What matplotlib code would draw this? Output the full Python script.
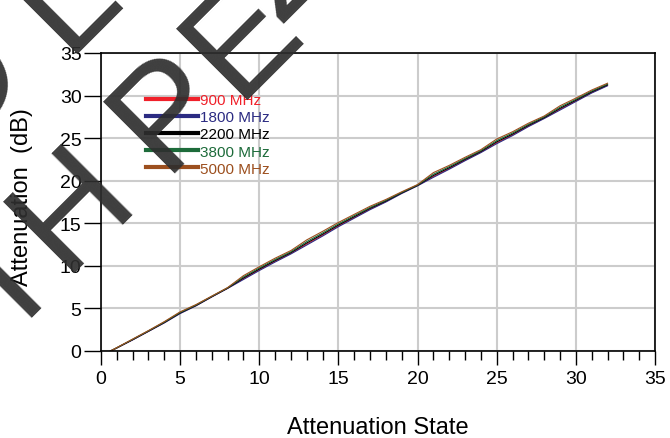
import numpy as np
import matplotlib
matplotlib.use("Agg")
import matplotlib.pyplot as plt
from matplotlib.lines import Line2D

states = [0.6, 1, 2, 3, 4, 5, 6, 7, 8, 9, 10, 11, 12, 13, 14, 15, 16,
          17, 18, 19, 20, 21, 22, 23, 24, 25, 26, 27, 28, 29, 30, 31, 32]

att_900 = [0, 0.36, 1.32, 2.32, 3.33, 4.44, 5.33, 6.37, 7.37, 8.5, 9.55,
           10.55, 11.49, 12.57, 13.61, 14.7, 15.69, 16.68, 17.56, 18.54,
           19.43, 20.51, 21.44, 22.43, 23.37, 24.46, 25.39, 26.43, 27.36,
           28.4, 29.38, 30.37, 31.21]
att_1800 = [0, 0.35, 1.3, 2.3, 3.3, 4.4, 5.3, 6.35, 7.35, 8.4, 9.45,
            10.45, 11.4, 12.45, 13.5, 14.6, 15.6, 16.6, 17.5, 18.5,
            19.4, 20.4, 21.35, 22.35, 23.3, 24.35, 25.3, 26.35, 27.3,
            28.3, 29.3, 30.3, 31.15]
att_2200 = [0, 0.37, 1.34, 2.34, 3.36, 4.48, 5.36, 6.39, 7.39, 8.58, 9.63,
            10.63, 11.56, 12.69, 13.72, 14.8, 15.78, 16.76, 17.62, 18.58,
            19.46, 20.62, 21.53, 22.51, 23.44, 24.57, 25.48, 26.51, 27.42,
            28.5, 29.46, 30.44, 31.27]
att_3800 = [0, 0.38, 1.37, 2.37, 3.4, 4.53, 5.4, 6.42, 7.42, 8.7, 9.75,
            10.75, 11.66, 12.85, 13.86, 14.93, 15.9, 16.86, 17.7, 18.63,
            19.5, 20.76, 21.65, 22.61, 23.53, 24.71, 25.6, 26.61, 27.5,
            28.63, 29.56, 30.53, 31.35]
att_5000 = [0, 0.4, 1.4, 2.4, 3.45, 4.6, 5.45, 6.45, 7.45, 8.85, 9.9,
            10.9, 11.8, 13.05, 14.05, 15.1, 16.05, 17.0, 17.8, 18.7,
            19.55, 20.95, 21.8, 22.75, 23.65, 24.9, 25.75, 26.75, 27.6,
            28.8, 29.7, 30.65, 31.45]

labels = ["900 MHz", "1800 MHz", "2200 MHz", "3800 MHz", "5000 MHz"]
colors = ["#f0202a", "#2b2b82", "#000000", "#1d6b3a", "#9c4f1e"]
series = [att_900, att_1800, att_2200, att_3800, att_5000]

plt.rcParams['font.family'] = ['Liberation Sans', 'DejaVu Sans']

fig = plt.figure(figsize=(6.7, 4.39), dpi=100)
ax = fig.add_axes([101 / 670, 1 - 352 / 439, 554 / 670, 298 / 439])

for y, c in zip(series, colors):
    ax.plot(states, y, color=c, lw=0.8)

ax.set_xlim(0, 35)
ax.set_ylim(0, 35)
ax.set_xticks(np.arange(0, 36, 5))
ax.set_xticks(np.arange(0, 36, 1), minor=True)
ax.set_yticks(np.arange(0, 36, 5))
ax.grid(True, which='major', color='#cccccc', lw=1.5)
ax.set_axisbelow(True)
for s in ax.spines.values():
    s.set_color('black')
    s.set_linewidth(1.2)

ax.tick_params(axis='x', which='major', direction='out', length=10, width=1.0,
               labelsize=14, pad=4)
ax.tick_params(axis='x', which='minor', direction='out', length=6.5, width=1.0)
ax.tick_params(axis='y', which='major', direction='out', length=12, width=1.0,
               labelsize=14, pad=2)

ax.set_xlabel("Attenuation State", fontsize=17)
ax.xaxis.set_label_coords(0.5, -0.217)
ax.set_ylabel("Attenuation  (dB)", fontsize=17)
ax.yaxis.set_label_coords(-0.123, 0.52)

handles = [Line2D([0], [0], color=c, lw=3) for c in colors]
leg = ax.legend(handles, labels, loc='upper left', bbox_to_anchor=(0.07, 0.885),
                frameon=False, fontsize=11, handlelength=3.4, handletextpad=0.15,
                labelspacing=0.2, borderaxespad=0, labelcolor=colors)

# diagonal watermark over the chart: glyph centre along the baseline (u)
# and height of the baseline (n), both in pixels, rotated 45 degrees
wm_x0, wm_y0 = 173, 163
wm_chars = [("I", -198, 0), ("H", -102, 0), ("P", 35, 0), ("E", 138, 0),
            ("Z", 219, 23), ("O", -95, 164), ("L", 42, 153)]
for ch, u, n in wm_chars:
    px = wm_x0 + (u - n) / np.sqrt(2)
    py = wm_y0 + (-u - n) / np.sqrt(2)
    fig.text(px / 670, 1 - py / 439, ch, fontsize=106, rotation=45,
             rotation_mode='anchor', ha='center', va='baseline',
             color='#2e2e2e', alpha=0.92, zorder=10)

fig.savefig("out.png", dpi=100)
